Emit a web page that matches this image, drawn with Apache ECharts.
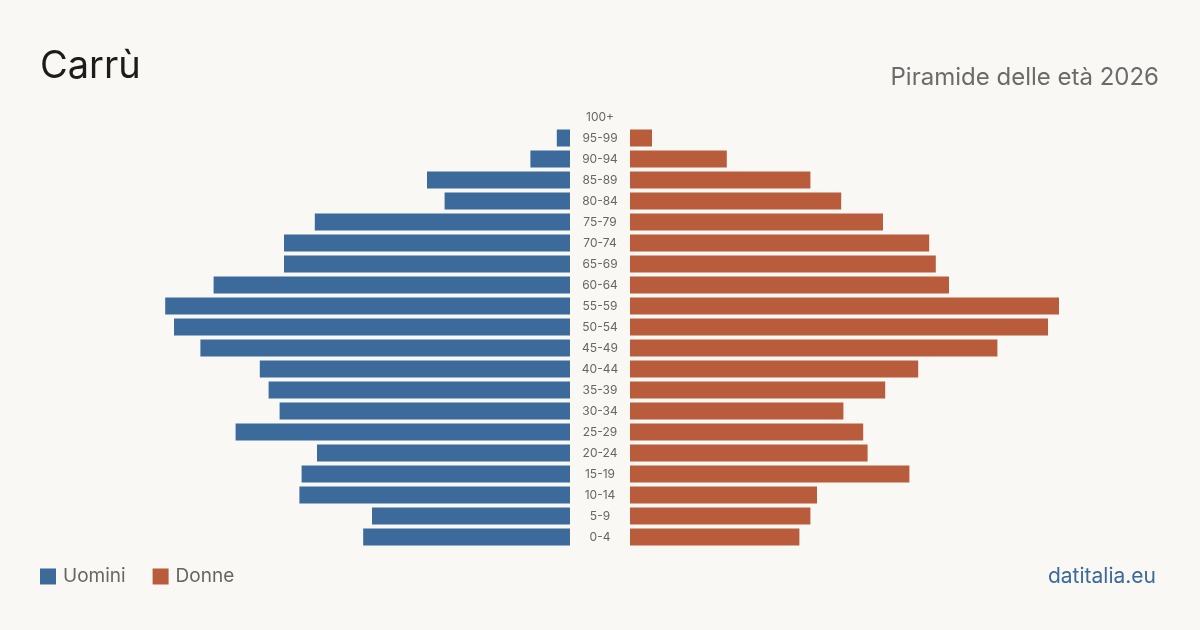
<!DOCTYPE html>
<html>
<head>
<meta charset="utf-8">
<title>Carrù - Piramide delle età 2026</title>
<script src="https://cdn.jsdelivr.net/npm/echarts@6/dist/echarts.min.js"></script>
<style>
	html, body { margin: 0; padding: 0; background: #f9f8f4; }
	#main { width: 1200px; height: 630px; }
</style>
</head>
<body>
<div id="main"></div>
<script>
	// classi di età, dal basso verso l'alto
	var ageGroups = ['0-4', '5-9', '10-14', '15-19', '20-24', '25-29', '30-34', '35-39', '40-44', '45-49',
		'50-54', '55-59', '60-64', '65-69', '70-74', '75-79', '80-84', '85-89', '90-94', '95-99', '100+'];
	var uomini = [94, 90, 123, 122, 115, 152, 132, 137, 141, 168, 180, 184, 162, 130, 130, 116, 57, 65, 18, 6, 0];
	var donne = [77, 82, 85, 127, 108, 106, 97, 116, 131, 167, 190, 195, 145, 139, 136, 115, 96, 82, 44, 10, 0];

	var blu = '#3b6a9b';
	var rosso = '#b95c3b';
	var maxVal = 230;
	var font = 'Inter, "Noto Sans", sans-serif';

	var chart = echarts.init(document.getElementById('main'));
	var option = {
		backgroundColor: '#f9f8f4',
		animation: false,
		title: [{
			text: 'Carrù',
			left: 35,
			top: 43,
			textStyle: { fontFamily: font, fontSize: 38, fontWeight: 'normal', color: '#1c1c1c' }
		}, {
			text: 'Piramide delle età 2026',
			right: 36,
			top: 61,
			textStyle: { fontFamily: font, fontSize: 24, fontWeight: 'normal', color: '#6b6b6b' }
		}, {
			text: 'datitalia.eu',
			right: 39,
			top: 561,
			textStyle: { fontFamily: font, fontSize: 21, fontWeight: 'normal', color: '#3b6a9b' }
		}],
		legend: {
			left: 40,
			top: 567,
			padding: 0,
			itemWidth: 16,
			itemHeight: 16,
			itemGap: 27,
			icon: 'rect',
			textStyle: { fontFamily: font, fontSize: 19, color: '#666', padding: [0, 0, 0, 2] },
			data: ['Uomini', 'Donne']
		},
		grid: [
			{ left: 64, right: 630, top: 106.5, height: 441 },
			{ left: 630, right: 64, top: 106.5, height: 441 }
		],
		xAxis: [
			{ gridIndex: 0, type: 'value', inverse: true, min: 0, max: maxVal, show: false },
			{ gridIndex: 1, type: 'value', min: 0, max: maxVal, show: false }
		],
		yAxis: [
			{
				gridIndex: 0, type: 'category', data: ageGroups, show: false
			},
			{
				gridIndex: 1, type: 'category', data: ageGroups, position: 'left',
				axisLine: { show: false },
				axisTick: { show: false },
				axisLabel: {
					margin: 30,
					align: 'center',
					fontFamily: font,
					fontSize: 12,
					color: '#666'
				}
			}
		],
		series: [{
			name: 'Uomini',
			type: 'bar',
			xAxisIndex: 0,
			yAxisIndex: 0,
			barWidth: 17,
			itemStyle: { color: blu },
			data: uomini
		}, {
			name: 'Donne',
			type: 'bar',
			xAxisIndex: 1,
			yAxisIndex: 1,
			barWidth: 17,
			itemStyle: { color: rosso },
			data: donne
		}]
	};
	chart.setOption(option);
</script>
</body>
</html>
